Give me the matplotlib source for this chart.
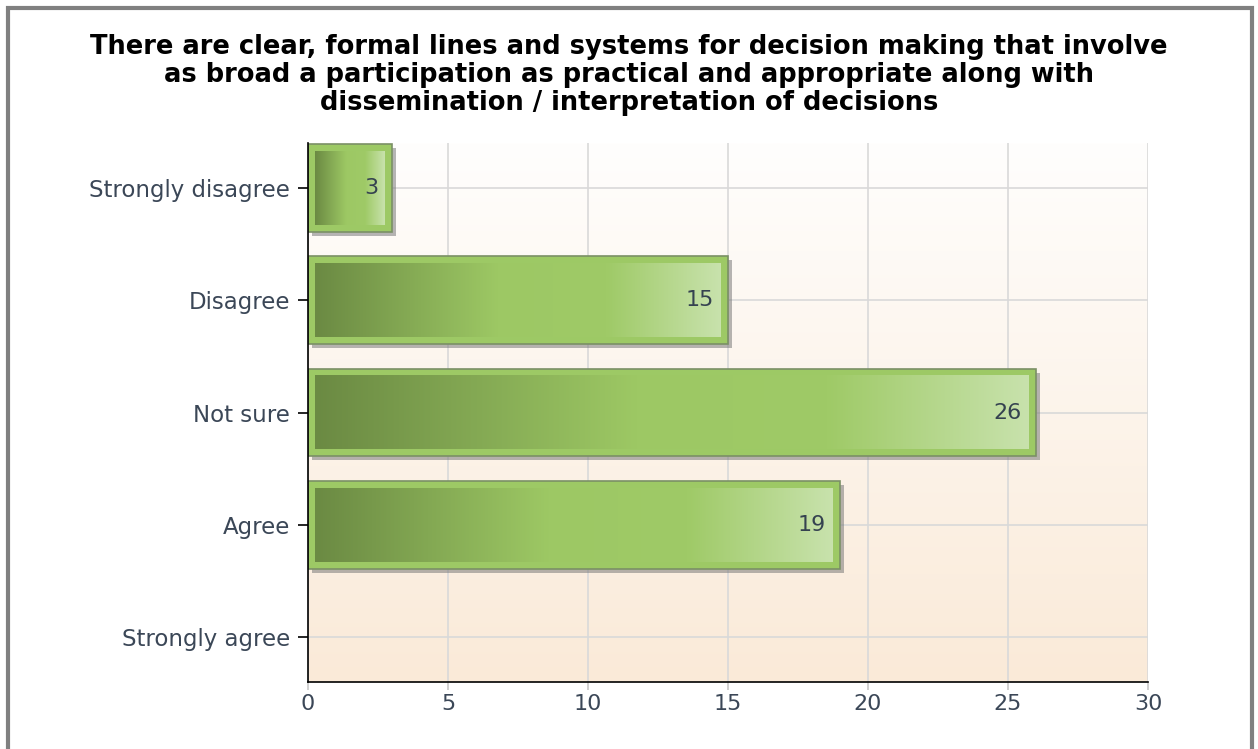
import numpy as np
import matplotlib
matplotlib.use("Agg")
import matplotlib.pyplot as plt
from matplotlib.colors import LinearSegmentedColormap
from matplotlib.patches import Rectangle
import matplotlib.transforms as mtransforms

title = ("There are clear, formal lines and systems for decision making that involve\n"
         "as broad a participation as practical and appropriate along with\n"
         "dissemination / interpretation of decisions")
categories = ["Strongly disagree", "Disagree", "Not sure", "Agree", "Strongly agree"]
counts = [3, 15, 26, 19, 0]
xticks = [0, 5, 10, 15, 20, 25, 30]

plt.rcParams['font.family'] = ['DejaVu Sans']
label_col = '#3b4757'

fig = plt.figure(figsize=(12.58, 7.49), dpi=100)
ax = fig.add_axes([308 / 1258, 1 - 682 / 749, 840 / 1258, 539 / 749])

# outer gray frame
fig.patches.append(Rectangle((8 / 1258, -0.01), 1244 / 1258, 1 - 8 / 749 + 0.01,
                             transform=fig.transFigure, fill=False,
                             edgecolor='#808080', lw=3))

fig.text(0.5, 1 - 75 / 749, title, ha='center', va='center', fontsize=18.5,
         fontweight='bold', color='black', linespacing=1.08)

# plot background gradient
bg = LinearSegmentedColormap.from_list('bg', ['#fffefd', '#faead8'])
ax.imshow(np.linspace(0, 1, 256).reshape(-1, 1), cmap=bg, aspect='auto',
          extent=[0, 1, 0, 1], transform=ax.transAxes, zorder=0)

bar_cmap = LinearSegmentedColormap.from_list(
    'bar', [(0, '#6b8a43'), (0.45, '#9dc864'), (0.72, '#9fca67'), (1.0, '#c8e2ac')])

h = 0.78
shadow_tr = mtransforms.offset_copy(ax.transData, fig=fig, x=4, y=-4, units='dots')
grad = np.linspace(0, 1, 256).reshape(1, -1)
for i, v in enumerate(counts):
    if v <= 0:
        continue
    y0 = i - h / 2
    ax.add_patch(Rectangle((0, y0), v, h, transform=shadow_tr, facecolor='#7a7a7a',
                           alpha=0.55, lw=0, zorder=2))
    ax.add_patch(Rectangle((0, y0), v, h, facecolor='#9dc965', edgecolor='#7b9066',
                           lw=1.2, zorder=3))
    dx = 7 / 28.0
    dy = 7 / 112.3
    ax.imshow(grad, cmap=bar_cmap, aspect='auto',
              extent=[dx, v - dx, i + h / 2 - dy, i - h / 2 + dy], zorder=4)
    ax.annotate(str(v), (v, i), xytext=(-14, 0), textcoords='offset pixels',
                ha='right', va='center', fontsize=16, color='#354250', zorder=5)

ax.set_xlim(0, 30)
ax.set_ylim(4.4, -0.4)
ax.set_xticks(xticks)
ax.set_yticks(range(len(categories)))
ax.set_yticklabels(categories)
ax.grid(True, color='#d9d9d9', lw=1.2, zorder=1)
ax.set_axisbelow(True)
for s in ['top', 'right']:
    ax.spines[s].set_visible(False)
for s in ['left', 'bottom']:
    ax.spines[s].set_color('black')
    ax.spines[s].set_linewidth(1.2)
    ax.spines[s].set_zorder(6)
ax.tick_params(axis='y', length=7, width=1.2, color='black', labelsize=16.5,
               labelcolor=label_col, pad=6)
ax.tick_params(axis='x', length=6, width=1.2, color='#c8c8c8', labelsize=16,
               labelcolor=label_col, pad=3)

fig.savefig('out.png', dpi=100)
